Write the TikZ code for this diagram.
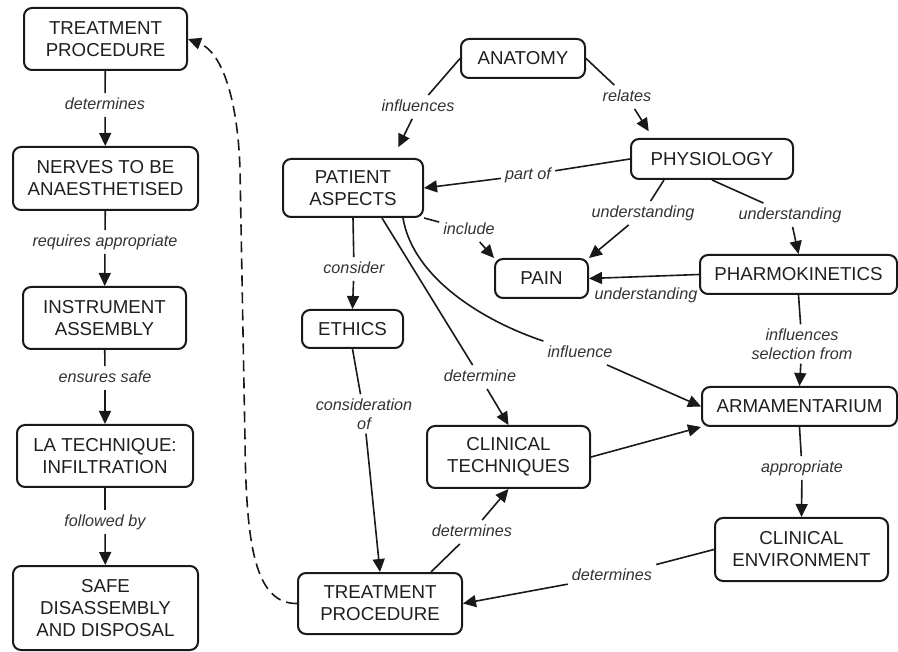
\documentclass[tikz,border=0pt]{standalone}
\usepackage{fontspec}
\setmainfont{Liberation Sans}
\usetikzlibrary{arrows.meta,calc}
\begin{document}
\begin{tikzpicture}[x=1pt,y=-1pt,
  box/.style={draw=black!90, line width=2pt, rounded corners=8pt, align=center, inner sep=0pt, text=black!88, font=\fontsize{18.7}{22}\selectfont},
  lbl/.style={inner sep=4pt, align=center, text=black!80, font=\itshape\fontsize{16.2}{19}\selectfont},
  lbls/.style={lbl, text height=12pt, text depth=3.5pt},
  ln/.style={draw=black!90, line width=1.6pt},
  arr/.style={ln, -{Triangle[length=13pt,width=12pt]}},
  dsh/.style={arr, dash pattern=on 11pt off 6pt},
]
\useasboundingbox (0,0) rectangle (898,652);

% left column
\node[box, minimum width=163pt, minimum height=62pt] (tp1) at (105.5,39) {TREATMENT\\PROCEDURE};
\node[box, minimum width=185pt, minimum height=63pt] (nerves) at (105.5,178.5) {NERVES TO BE\\ANAESTHETISED};
\node[box, minimum width=163pt, minimum height=62pt] (instr) at (104.5,318) {INSTRUMENT\\ASSEMBLY};
\node[box, minimum width=176pt, minimum height=62pt] (latech) at (105,456) {LA TECHNIQUE:\\INFILTRATION};
\node[box, minimum width=185pt, minimum height=84pt] (safe) at (105.5,608) {SAFE\\DISASSEMBLY\\AND DISPOSAL};

% right part
\node[box, minimum width=124pt, minimum height=39pt] (anatomy) at (523,58.5) {ANATOMY};
\node[box, minimum width=162pt, minimum height=40pt] (physiology) at (712,159) {PHYSIOLOGY};
\node[box, minimum width=140pt, minimum height=58pt] (patient) at (353,188) {PATIENT\\ASPECTS};
\node[box, minimum width=93pt, minimum height=39pt] (pain) at (541.5,278.5) {PAIN};
\node[box, minimum width=197pt, minimum height=39pt] (pharmo) at (798.5,274.5) {PHARMOKINETICS};
\node[box, minimum width=101pt, minimum height=38pt] (ethics) at (352.5,329) {ETHICS};
\node[box, minimum width=163pt, minimum height=62pt] (ct) at (508.5,457) {CLINICAL\\TECHNIQUES};
\node[box, minimum width=195pt, minimum height=39pt] (arm) at (799.5,406.5) {ARMAMENTARIUM};
\node[box, minimum width=173pt, minimum height=63pt] (ce) at (801.5,549.5) {CLINICAL\\ENVIRONMENT};
\node[box, minimum width=164pt, minimum height=61pt] (tp2) at (380,603.5) {TREATMENT\\PROCEDURE};

% labels
\node[lbls] (l1) at (105,105) {determines};
\node[lbls] (l2) at (105,242) {requires appropriate};
\node[lbls] (l3) at (105,378) {ensures safe};
\node[lbls] (l4) at (105,522) {followed by};
\node[lbls] (linf) at (418,107) {influences};
\node[lbls] (lrel) at (627,97) {relates};
\node[lbls] (lpart) at (528,175) {part of};
\node[lbls] (linc) at (469,230) {include};
\node[lbls] (lu1) at (643,213) {understanding};
\node[lbls] (lu2) at (790,215) {understanding};
\node[lbls] (lu3) at (646,295) {understanding};
\node[lbl] (lsel) at (802,344) {influences\\selection from};
\node[lbls] (lcons) at (354,269) {consider};
\node[lbls] (ldet) at (480,377) {determine};
\node[lbls] (linfl) at (580,353) {influence};
\node[lbl] (lconsid) at (364,414) {consideration\\of};
\node[lbls] (ldets) at (472,532) {determines};
\node[lbls] (ldetce) at (612,576) {determines};
\node[lbls] (lappr) at (802,468) {appropriate};

% left column connectors
\draw[ln] (tp1) -- (l1); \draw[arr] (l1) -- (nerves);
\draw[ln] (nerves) -- (l2); \draw[arr] (l2) -- (instr);
\draw[ln] (instr) -- (l3); \draw[arr] (l3) -- (latech);
\draw[ln] (latech) -- (l4); \draw[arr] (l4) -- (safe);

% right connectors
\draw[ln] (anatomy.west) -- (linf);
\draw[arr, shorten >=12pt] (linf) -- ([xshift=40pt]patient.north);
\draw[ln] (anatomy.east) -- (lrel);
\draw[arr, shorten >=8pt] (lrel) -- ([xshift=23pt]physiology.north west);
\draw[ln] (physiology.west) -- (lpart);
\draw[arr] (lpart) -- (patient.east);
\draw[ln] (patient.south east) -- (linc);
\draw[arr] (linc) -- (pain.north west);
\draw[ln] ([xshift=-48pt]physiology.south) -- (lu1);
\draw[arr] (lu1) -- (pain.north east);
\draw[ln] (physiology.south) -- (lu2);
\draw[arr] (lu2) -- (pharmo.north);
\draw[arr] (pharmo.west) -- (pain.east);
\draw[ln] (pharmo.south) -- (lsel);
\draw[arr] (lsel) -- (arm.north);
\draw[ln] (patient.south) -- (lcons);
\draw[arr] (lcons) -- (ethics.north);
\draw[ln] ([xshift=29pt]patient.south) -- (ldet);
\draw[arr] (ldet) -- (ct.north);
\draw[ln] ([xshift=50pt]patient.south) .. controls +(10,60) and +(-60,-20) .. (linfl.north west);
\draw[arr] (linfl) -- (arm.west);
\draw[arr] (ct.east) -- (arm.south west);
\draw[ln] (ethics.south) -- (lconsid);
\draw[arr] (lconsid) -- (tp2.north);
\draw[ln] ([xshift=51pt]tp2.north) -- (ldets);
\draw[arr] (ldets) -- (ct.south);
\draw[ln] (ce.west) -- (ldetce);
\draw[arr] (ldetce) -- (tp2.east);
\draw[ln] (arm.south) -- (lappr);
\draw[arr] (lappr) -- (ce.north);

% dashed return connector
\coordinate (dA) at (245,440);
\coordinate (dB) at (240,170);
\draw[dsh] (tp2.west) .. controls (255,604) and (246,545) .. (dA) -- (dB) .. controls (238,100) and (222,52) .. (tp1.east);
\end{tikzpicture}
\end{document}
